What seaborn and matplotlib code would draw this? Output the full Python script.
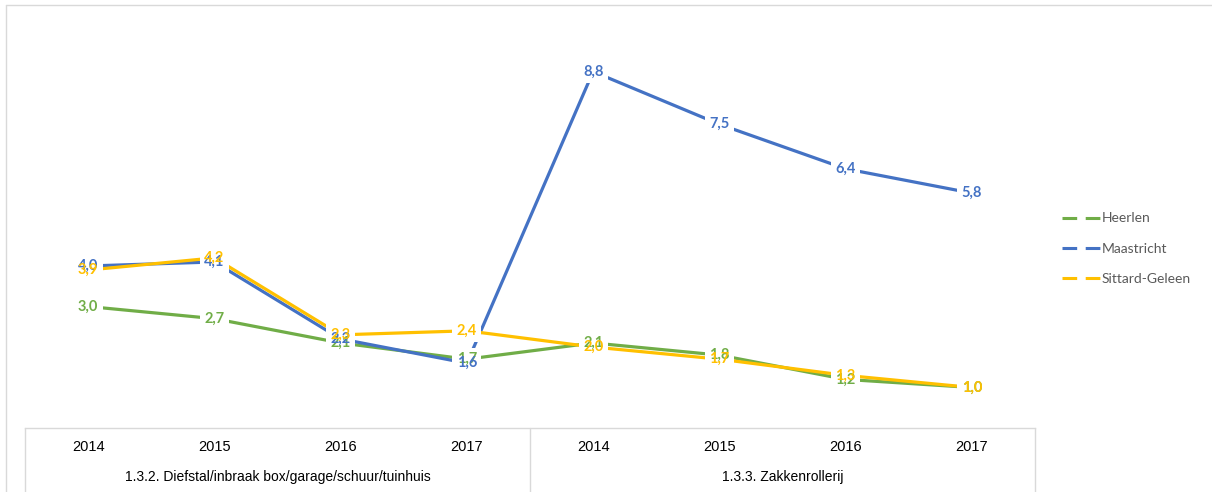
import matplotlib
matplotlib.use("Agg")
import matplotlib.pyplot as plt
from matplotlib.lines import Line2D
from matplotlib.transforms import blended_transform_factory
import seaborn as sns
import pandas as pd

# ---- data ----
groups = ["1.3.2. Diefstal/inbraak box/garage/schuur/tuinhuis", "1.3.3. Zakkenrollerij"]
years = ["2014", "2015", "2016", "2017"]
heerlen = [3.0, 2.7, 2.1, 1.7, 2.1, 1.8, 1.2, 1.0]
maastricht = [4.0, 4.1, 2.2, 1.6, 8.8, 7.5, 6.4, 5.8]
sittard = [3.9, 4.2, 2.3, 2.4, 2.0, 1.7, 1.3, 1.0]
series_names = ["Heerlen", "Maastricht", "Sittard-Geleen"]
colors = ["#70AD47", "#4472C4", "#FFC000"]

series_values = [heerlen, maastricht, sittard]
rows = []
for name, vals in zip(series_names, series_values):
    for i, v in enumerate(vals):
        rows.append({"idx": i, "value": v, "city": name})
df = pd.DataFrame(rows)

sns.set_theme(style="white")
plt.rcParams["font.family"] = ["Liberation Sans", "DejaVu Sans"]

W, H = 1212, 492
fig = plt.figure(figsize=(W / 100, H / 100), dpi=100)
ax_left, ax_right, ax_top, ax_bot = 25, 1035, 23, 428
ax = fig.add_axes([ax_left / W, 1 - ax_bot / H, (ax_right - ax_left) / W, (ax_bot - ax_top) / H])

sns.lineplot(data=df, x="idx", y="value", hue="city", palette=dict(zip(series_names, colors)),
             hue_order=series_names, linewidth=2.3, legend=False, ax=ax, zorder=2)

ax.set_xlim(-0.5, 7.5)
ax.set_ylim(0, 10)
ax.set_xlabel("")
ax.set_ylabel("")
ax.set_yticks([])
ax.set_xticks([])
for s in ["top", "left", "right"]:
    ax.spines[s].set_visible(False)
ax.spines["bottom"].set_color("#d9d9d9")
ax.spines["bottom"].set_linewidth(1)

# data labels: white backgrounds first, then coloured text
lab_font = dict(family=["Lato", "DejaVu Sans"], fontsize=10.5, fontweight="bold")
for name, vals, col in zip(series_names, series_values, colors):
    for i, v in enumerate(vals):
        txt = f"{v:.1f}".replace(".", ",")
        ax.text(i, v, txt, ha="center", va="center", color="white", zorder=3,
                bbox=dict(boxstyle="square,pad=0.3", fc="white", ec="none"), **lab_font)
for name, vals, col in zip(series_names, series_values, colors):
    for i, v in enumerate(vals):
        txt = f"{v:.1f}".replace(".", ",")
        ax.text(i, v, txt, ha="center", va="center", color=col, zorder=4, **lab_font)

# category axis (multi-level)
tr = blended_transform_factory(ax.transData, fig.transFigure)
for i in range(8):
    ax.text(i, 1 - 447 / H, years[i % 4], transform=tr, ha="center", va="center",
            fontsize=10.5, color="#000000")
for g, name in enumerate(groups):
    ax.text(1.5 + 4 * g, 1 - 477 / H, name, transform=tr, ha="center", va="center",
            fontsize=10, color="#000000")
for xs in [-0.5, 3.5, 7.5]:
    ax.add_line(Line2D([xs, xs], [1 - ax_bot / H, 0], transform=tr, color="#d9d9d9",
                       linewidth=1, clip_on=False))

# chart area border (left & top)
fig.add_artist(Line2D([6 / W, 6 / W], [0, 1 - 5 / H], transform=fig.transFigure, color="#d9d9d9", lw=1))
fig.add_artist(Line2D([6 / W, 1], [1 - 5 / H, 1 - 5 / H], transform=fig.transFigure, color="#d9d9d9", lw=1))

# legend
handles = [Line2D([0], [0], color=c, lw=2.2, linestyle=(0, (4.8, 2.8))) for c in colors]
leg = fig.legend(handles, series_names, loc="upper left", bbox_to_anchor=(1049 / W, 1 - 200 / H),
                 frameon=False, handlelength=2.75, handletextpad=0.15, labelspacing=1.3,
                 prop=dict(family=["Lato", "DejaVu Sans"], size=10))
for t in leg.get_texts():
    t.set_color("#595959")

fig.savefig("out.png", dpi=100, facecolor="white")
